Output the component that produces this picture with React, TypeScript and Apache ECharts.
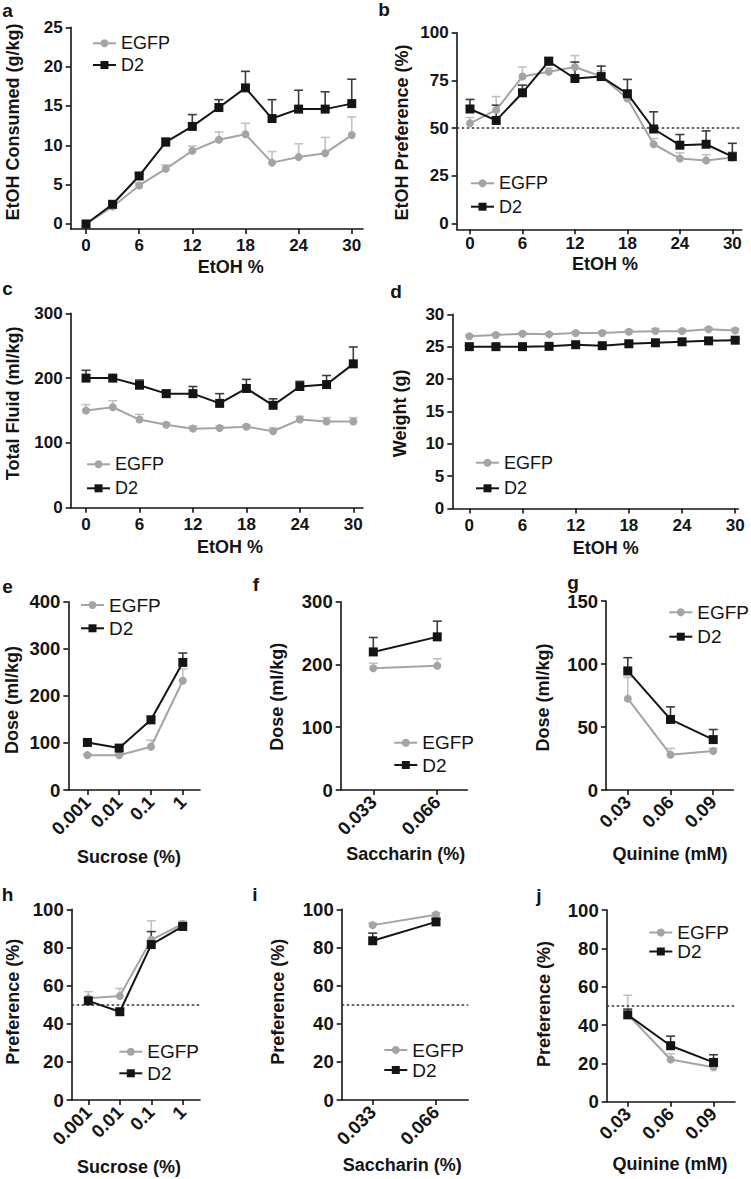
import { useEffect, useRef } from "react";
import * as echarts from "echarts";

// ---------- data ----------
const ethanolPct = [0, 3, 6, 9, 12, 15, 18, 21, 24, 27, 30];
const ethanolTicks = [0, 6, 12, 18, 24, 30];

const consumedEGFP = [0, 2.2, 4.9, 7.0, 9.3, 10.7, 11.4, 7.8, 8.5, 9.0, 11.3];
const consumedEGFPErr = [0, 0.2, 0.3, 0.5, 0.6, 1.0, 1.4, 1.4, 1.7, 2.0, 2.3];
const consumedD2 = [0, 2.5, 6.1, 10.4, 12.4, 14.8, 17.3, 13.4, 14.6, 14.6, 15.3];
const consumedD2Err = [0, 0.2, 0.3, 0.5, 1.5, 1.0, 2.1, 2.4, 2.4, 2.2, 3.1];

const prefEGFP = [52.5, 59.5, 77, 79.5, 82, 77, 65.5, 41.5, 34, 33, 34.5];
const prefEGFPErr = [3, 7, 5, 2, 6, 3, 3, 3, 3, 3, 3];
const prefD2 = [60, 54, 68.5, 85, 76, 77, 68, 49.5, 41, 41.5, 35];
const prefD2Err = [5, 8, 4, 2, 8.6, 5.5, 7.5, 9, 5.6, 7, 7];

const fluidEGFP = [150, 155, 136, 128, 122, 123, 125, 118, 136, 133, 133];
const fluidEGFPErr = [9, 10, 8, 3, 4, 3, 3, 5, 5, 6, 6];
const fluidD2 = [200, 200, 189, 176, 176, 161, 184, 158, 187, 190, 222];
const fluidD2Err = [12, 3, 8, 5, 11, 15, 14, 10, 8, 14, 26];

const weightEGFP = [26.6, 26.8, 27.0, 26.9, 27.1, 27.1, 27.3, 27.4, 27.4, 27.7, 27.5];
const weightEGFPErr = [0.2, 0.2, 0.2, 0.2, 0.2, 0.3, 0.2, 0.4, 0.3, 0.2, 0.3];
const weightD2 = [25.0, 25.0, 25.0, 25.05, 25.3, 25.15, 25.45, 25.6, 25.75, 25.9, 26.0];
const weightD2Err = [0.2, 0.2, 0.2, 0.2, 0.2, 0.2, 0.2, 0.2, 0.2, 0.2, 0.2];

const sucroseLabels = ["0.001", "0.01", "0.1", "1"];
const sucroseDoseEGFP = [74, 74, 92, 232];
const sucroseDoseEGFPErr = [3, 3, 14, 25];
const sucroseDoseD2 = [101, 89, 149, 271];
const sucroseDoseD2Err = [4, 5, 7, 20];

const saccharinLabels = ["0.033", "0.066"];
const saccharinDoseEGFP = [194, 198];
const saccharinDoseEGFPErr = [8, 11];
const saccharinDoseD2 = [220, 244];
const saccharinDoseD2Err = [23, 25];

const quinineLabels = ["0.03", "0.06", "0.09"];
const quinineDoseEGFP = [72.5, 28, 31];
const quinineDoseEGFPErr = [17, 5, 2];
const quinineDoseD2 = [94.5, 56, 40];
const quinineDoseD2Err = [10.5, 10, 8];

const sucrosePrefEGFP = [53.3, 54.5, 84, 92.3];
const sucrosePrefEGFPErr = [3.5, 4, 10, 1.5];
const sucrosePrefD2 = [52, 46.3, 81.5, 91];
const sucrosePrefD2Err = [1.5, 1.5, 6.8, 1.5];

const saccharinPrefEGFP = [91.7, 97.2];
const saccharinPrefEGFPErr = [1, 1];
const saccharinPrefD2 = [83.5, 93.4];
const saccharinPrefD2Err = [4, 1.5];

const quininePrefEGFP = [45.5, 22, 18];
const quininePrefEGFPErr = [10, 3, 1];
const quininePrefD2 = [45.3, 29.2, 20.5];
const quininePrefD2Err = [3, 5, 4];

const seriesNames = ["EGFP", "D2"];

// ---------- styles ----------
const FONT = '"Liberation Sans", Arial, Helvetica, sans-serif';
const AXIS = "#141414";
const EGFP_COLOR = "#a4a4a4";
const EGFP_ERR = "#c2c2c2";
const D2_COLOR = "#141414";
const D2_ERR = "#3c3c3c";

const idx = (labels: string[]) => labels.map((_, i) => i);

type Panel = {
  id: string;
  box: [number, number, number, number];
  xr: [number, number];
  yr: [number, number];
  xTicks: number[];
  yTicks: number[];
  xLabels?: string[];
  xs: number[];
  egfp: number[];
  egfpErr: number[];
  d2: number[];
  d2Err: number[];
  ref50?: boolean;
  legend: { left: number; top: number; gap: number; font: number };
  tickFont: number;
  xMargin: number;
  xTitle: { text: string; x: number; y: number };
  yTitle: { text: string; x: number; y: number };
  label: { x: number; y: number };
};

const panels: Panel[] = [
  {
    id: "a", box: [70.7, 27.3, 363, 229], xr: [-1.73, 31.27], yr: [-0.64, 25],
    xTicks: ethanolTicks, yTicks: [0, 5, 10, 15, 20, 25], xs: ethanolPct,
    egfp: consumedEGFP, egfpErr: consumedEGFPErr, d2: consumedD2, d2Err: consumedD2Err,
    legend: { left: 92, top: 34.3, gap: 3.7, font: 18 }, tickFont: 17, xMargin: 8,
    xTitle: { text: "EtOH %", x: 230.8, y: 267 }, yTitle: { text: "EtOH Consumed (g/kg)", x: 13.3, y: 122 },
    label: { x: 7.5, y: 10 },
  },
  {
    id: "b", box: [456.7, 32.7, 741.7, 229.3], xr: [-1.52, 31.07], yr: [-3.1, 100],
    xTicks: ethanolTicks, yTicks: [0, 25, 50, 75, 100], xs: ethanolPct,
    egfp: prefEGFP, egfpErr: prefEGFPErr, d2: prefD2, d2Err: prefD2Err, ref50: true,
    legend: { left: 470, top: 174.3, gap: 5.4, font: 18 }, tickFont: 17, xMargin: 6,
    xTitle: { text: "EtOH %", x: 605, y: 264 }, yTitle: { text: "EtOH Preference (%)", x: 401.7, y: 132.5 },
    label: { x: 384, y: 9 },
  },
  {
    id: "c", box: [70.7, 313.3, 363, 507.7], xr: [-1.72, 31.09], yr: [0, 300],
    xTicks: ethanolTicks, yTicks: [0, 100, 200, 300], xs: ethanolPct,
    egfp: fluidEGFP, egfpErr: fluidEGFPErr, d2: fluidD2, d2Err: fluidD2Err,
    legend: { left: 86, top: 455.3, gap: 6, font: 18 }, tickFont: 17, xMargin: 8,
    xTitle: { text: "EtOH %", x: 230, y: 546.7 }, yTitle: { text: "Total Fluid (ml/kg)", x: 13.3, y: 403.3 },
    label: { x: 7.5, y: 288.3 },
  },
  {
    id: "d", box: [452.3, 314.3, 738.3, 508.5], xr: [-1.92, 30.35], yr: [0, 30],
    xTicks: ethanolTicks, yTicks: [0, 5, 10, 15, 20, 25, 30], xs: ethanolPct,
    egfp: weightEGFP, egfpErr: weightEGFPErr, d2: weightD2, d2Err: weightD2Err,
    legend: { left: 475, top: 453.7, gap: 7.6, font: 18 }, tickFont: 17, xMargin: 8,
    xTitle: { text: "EtOH %", x: 605.7, y: 548.3 }, yTitle: { text: "Weight (g)", x: 400, y: 413.3 },
    label: { x: 396, y: 291.7 },
  },
  {
    id: "e", box: [68.3, 601.7, 200, 790], xr: [-0.6, 3.54], yr: [0, 400],
    xTicks: idx(sucroseLabels), xLabels: sucroseLabels, yTicks: [0, 100, 200, 300, 400], xs: idx(sucroseLabels),
    egfp: sucroseDoseEGFP, egfpErr: sucroseDoseEGFPErr, d2: sucroseDoseD2, d2Err: sucroseDoseD2Err,
    legend: { left: 80, top: 595.5, gap: 4.3, font: 19 }, tickFont: 18.5, xMargin: 9,
    xTitle: { text: "Sucrose (%)", x: 129, y: 856.7 }, yTitle: { text: "Dose (ml/kg)", x: 11.7, y: 700 },
    label: { x: 7.5, y: 586 },
  },
  {
    id: "f", box: [340.7, 601.7, 467.3, 790], xr: [-0.51, 1.47], yr: [0, 300],
    xTicks: idx(saccharinLabels), xLabels: saccharinLabels, yTicks: [0, 100, 200, 300], xs: idx(saccharinLabels),
    egfp: saccharinDoseEGFP, egfpErr: saccharinDoseEGFPErr, d2: saccharinDoseD2, d2Err: saccharinDoseD2Err,
    legend: { left: 393.3, top: 733.2, gap: 3.3, font: 19 }, tickFont: 18.5, xMargin: 9,
    xTitle: { text: "Saccharin (%)", x: 405.7, y: 854 }, yTitle: { text: "Dose (ml/kg)", x: 276.7, y: 696.7 },
    label: { x: 256, y: 584 },
  },
  {
    id: "g", box: [606, 601, 733.3, 790], xr: [-0.51, 2.47], yr: [0, 150],
    xTicks: idx(quinineLabels), xLabels: quinineLabels, yTicks: [0, 50, 100, 150], xs: idx(quinineLabels),
    egfp: quinineDoseEGFP, egfpErr: quinineDoseEGFPErr, d2: quinineDoseD2, d2Err: quinineDoseD2Err,
    legend: { left: 668.3, top: 602.8, gap: 5.4, font: 19 }, tickFont: 18.5, xMargin: 9,
    xTitle: { text: "Quinine (mM)", x: 670, y: 854 }, yTitle: { text: "Dose (ml/kg)", x: 542.5, y: 697.5 },
    label: { x: 573, y: 582 },
  },
  {
    id: "h", box: [71.7, 909.3, 200, 1100], xr: [-0.53, 3.55], yr: [0, 100],
    xTicks: idx(sucroseLabels), xLabels: sucroseLabels, yTicks: [0, 20, 40, 60, 80, 100], xs: idx(sucroseLabels),
    egfp: sucrosePrefEGFP, egfpErr: sucrosePrefEGFPErr, d2: sucrosePrefD2, d2Err: sucrosePrefD2Err, ref50: true,
    legend: { left: 118.3, top: 1042.2, gap: 2.6, font: 19 }, tickFont: 18.5, xMargin: 9,
    xTitle: { text: "Sucrose (%)", x: 129, y: 1166.7 }, yTitle: { text: "Preference (%)", x: 13.3, y: 1001.7 },
    label: { x: 7.5, y: 894 },
  },
  {
    id: "i", box: [341.7, 909.3, 468.3, 1100], xr: [-0.49, 1.51], yr: [0, 100],
    xTicks: idx(saccharinLabels), xLabels: saccharinLabels, yTicks: [0, 20, 40, 60, 80, 100], xs: idx(saccharinLabels),
    egfp: saccharinPrefEGFP, egfpErr: saccharinPrefEGFPErr, d2: saccharinPrefD2, d2Err: saccharinPrefD2Err, ref50: true,
    legend: { left: 383.3, top: 1040.5, gap: 1, font: 19 }, tickFont: 18.5, xMargin: 9,
    xTitle: { text: "Saccharin (%)", x: 402.3, y: 1165 }, yTitle: { text: "Preference (%)", x: 278.3, y: 1001.7 },
    label: { x: 255, y: 894 },
  },
  {
    id: "j", box: [606.7, 910, 735, 1101.7], xr: [-0.49, 2.5], yr: [0, 100],
    xTicks: idx(quinineLabels), xLabels: quinineLabels, yTicks: [0, 20, 40, 60, 80, 100], xs: idx(quinineLabels),
    egfp: quininePrefEGFP, egfpErr: quininePrefEGFPErr, d2: quininePrefD2, d2Err: quininePrefD2Err, ref50: true,
    legend: { left: 648.3, top: 923, gap: 0, font: 19 }, tickFont: 18.5, xMargin: 9,
    xTitle: { text: "Quinine (mM)", x: 670, y: 1164 }, yTitle: { text: "Preference (%)", x: 544, y: 1004 },
    label: { x: 539, y: 895 },
  },
];

const errRender = (color: string) => (_params: any, api: any) => {
  const x = api.value(0);
  const y = api.value(1);
  const e = api.value(2);
  if (!e) return null;
  const p0 = api.coord([x, y]);
  const p1 = api.coord([x, y + e]);
  const style = { stroke: color, lineWidth: 1.6 };
  return {
    type: "group",
    children: [
      { type: "line", shape: { x1: p0[0], y1: p0[1], x2: p1[0], y2: p1[1] }, style },
      { type: "line", shape: { x1: p1[0] - 4.5, y1: p1[1], x2: p1[0] + 4.5, y2: p1[1] }, style },
    ],
  };
};

function buildOption() {
  const grid: any[] = [];
  const xAxis: any[] = [];
  const yAxis: any[] = [];
  const series: any[] = [];
  const legend: any[] = [];
  const graphic: any[] = [];

  panels.forEach((p, i) => {
    const [l, t, r, b] = p.box;
    grid.push({ left: l, top: t, width: r - l, height: b - t, containLabel: false, outerBoundsMode: "none" });
    const lineStyle = { color: AXIS, width: 1.6 };
    const labelStyle = { fontFamily: FONT, fontWeight: "bold", fontSize: p.tickFont, color: AXIS };
    xAxis.push({
      type: "value", gridIndex: i, min: p.xr[0], max: p.xr[1],
      splitLine: { show: false },
      axisLine: { show: true, onZero: false, lineStyle },
      axisTick: { show: true, customValues: p.xTicks, length: 5, lineStyle },
      axisLabel: {
        ...labelStyle,
        customValues: p.xTicks,
        margin: p.xMargin,
        rotate: p.xLabels ? 45 : 0,
        formatter: (v: number) => (p.xLabels ? p.xLabels[Math.round(v)] : String(v)),
      },
    });
    yAxis.push({
      type: "value", gridIndex: i, min: p.yr[0], max: p.yr[1],
      splitLine: { show: false },
      axisLine: { show: true, onZero: false, lineStyle },
      axisTick: { show: true, customValues: p.yTicks, length: 5, lineStyle },
      axisLabel: { ...labelStyle, customValues: p.yTicks, margin: 8, formatter: (v: number) => String(v) },
    });

    const errData = (vals: number[], errs: number[]) => p.xs.map((x, k) => [x, vals[k], errs[k]]);
    const lineData = (vals: number[]) => p.xs.map((x, k) => [x, vals[k]]);

    series.push({
      type: "custom", name: "EGFP-err", xAxisIndex: i, yAxisIndex: i, z: 1, silent: true, clip: false,
      renderItem: errRender(EGFP_ERR), data: errData(p.egfp, p.egfpErr), encode: { x: 0, y: 1 },
    });
    series.push({
      type: "custom", name: "D2-err", xAxisIndex: i, yAxisIndex: i, z: 1, silent: true, clip: false,
      renderItem: errRender(D2_ERR), data: errData(p.d2, p.d2Err), encode: { x: 0, y: 1 },
    });
    series.push({
      type: "line", name: seriesNames[0], xAxisIndex: i, yAxisIndex: i, z: 3,
      data: lineData(p.egfp), symbol: "circle", symbolSize: 8, showSymbol: true,
      lineStyle: { color: EGFP_COLOR, width: 2 }, itemStyle: { color: EGFP_COLOR },
      silent: true,
    });
    const d2Series: any = {
      type: "line", name: seriesNames[1], xAxisIndex: i, yAxisIndex: i, z: 4,
      data: lineData(p.d2), symbol: "rect", symbolSize: 9, showSymbol: true,
      lineStyle: { color: D2_COLOR, width: 2 }, itemStyle: { color: D2_COLOR },
      silent: true,
    };
    if (p.ref50) {
      d2Series.markLine = {
        silent: true, symbol: ["none", "none"], label: { show: false },
        lineStyle: { color: "#333", width: 1.5, type: [2.5, 2.5] },
        data: [{ yAxis: 50 }],
        z: 2,
      };
    }
    series.push(d2Series);

    legend.push({
      orient: "vertical", left: p.legend.left, top: p.legend.top, padding: 0,
      itemWidth: 23, itemHeight: 10, itemGap: p.legend.gap, selectedMode: false,
      data: seriesNames,
      textStyle: { fontFamily: FONT, fontSize: p.legend.font, color: AXIS },
    });

    graphic.push({
      type: "text", x: p.label.x, y: p.label.y,
      style: { text: p.id, fontFamily: FONT, fontWeight: "bold", fontSize: 19, fill: AXIS, align: "center", verticalAlign: "middle" },
    });
    graphic.push({
      type: "text", x: p.xTitle.x, y: p.xTitle.y,
      style: { text: p.xTitle.text, fontFamily: FONT, fontWeight: "bold", fontSize: 18, fill: AXIS, align: "center", verticalAlign: "middle" },
    });
    graphic.push({
      type: "text", x: p.yTitle.x, y: p.yTitle.y, rotation: Math.PI / 2,
      style: { text: p.yTitle.text, fontFamily: FONT, fontWeight: "bold", fontSize: 18, fill: AXIS, align: "center", verticalAlign: "middle" },
    });
  });

  return {
    animation: false,
    backgroundColor: "#ffffff",
    grid, xAxis, yAxis, series, legend, graphic,
  };
}

export default function App() {
  const ref = useRef<HTMLDivElement>(null);
  useEffect(() => {
    if (!ref.current) return;
    const chart = echarts.init(ref.current, null, { renderer: "svg" });
    chart.setOption(buildOption() as any);
    return () => chart.dispose();
  }, []);
  return (
    <div
      ref={ref}
      style={{ position: "absolute", left: 0, top: 0, width: 751, height: 1179, background: "#fff" }}
    />
  );
}
